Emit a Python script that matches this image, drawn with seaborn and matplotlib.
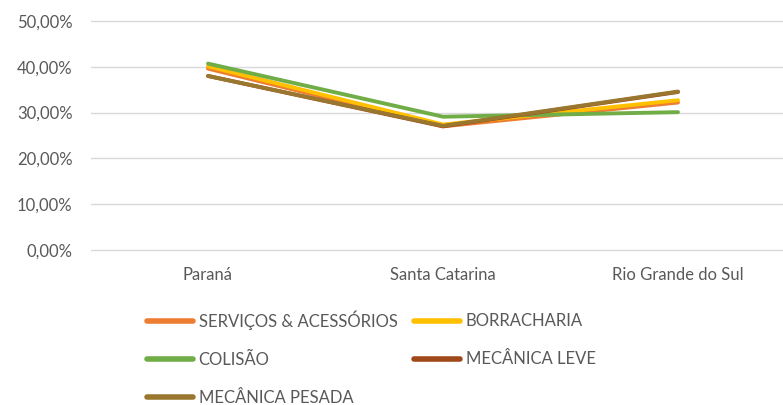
import pandas as pd
import matplotlib
matplotlib.use("Agg")
import matplotlib.pyplot as plt
import seaborn as sns
from matplotlib.ticker import FuncFormatter

# Data (share per state)
states = ["Paraná", "Santa Catarina", "Rio Grande do Sul"]
servicos = [0.396, 0.270, 0.322]
borracharia = [0.401, 0.274, 0.327]
colisao = [0.407, 0.291, 0.301]
mecanica_leve = [0.380, 0.270, 0.345]
mecanica_pesada = [0.380, 0.271, 0.346]

series_names = ["SERVIÇOS & ACESSÓRIOS", "BORRACHARIA", "COLISÃO",
                "MECÂNICA LEVE", "MECÂNICA PESADA"]
series_values = [servicos, borracharia, colisao, mecanica_leve, mecanica_pesada]
colors = ["#ED7D31", "#FFC000", "#70AD47", "#A0481A", "#9A772E"]

rows = []
for name, vals in zip(series_names, series_values):
    for st, v in zip(states, vals):
        rows.append({"estado": st, "serie": name, "valor": v})
df = pd.DataFrame(rows)

sns.set_theme(style="white")
plt.rcParams["font.family"] = ["Lato", "DejaVu Sans"]
text_color = "#595959"

W, H = 783, 405
fig = plt.figure(figsize=(W / 100, H / 100), dpi=100)
ax = fig.add_axes([90.5 / W, (H - 250) / H, 705 / W, 229 / H])

sns.lineplot(data=df, x="estado", y="valor", hue="serie", hue_order=series_names,
             palette=colors, sort=False, linewidth=2.8, ax=ax)

ax.set_xlim(-0.5, 2.5)
ax.set_ylim(0, 0.5)
ax.set_yticks([0, 0.1, 0.2, 0.3, 0.4, 0.5])
ax.yaxis.set_major_formatter(FuncFormatter(lambda v, _: f"{v * 100:.2f}%".replace(".", ",")))
ax.grid(axis="y", color="#D9D9D9", linewidth=1)
ax.grid(axis="x", visible=False)
ax.set_axisbelow(True)
for g in ax.get_ygridlines():
    g.set_clip_on(False)
for s in ax.spines.values():
    s.set_visible(False)
ax.set_xlabel("")
ax.set_ylabel("")
ax.tick_params(axis="y", length=0, pad=13, labelsize=12, labelcolor=text_color)
ax.tick_params(axis="x", length=0, pad=12.5, labelsize=12, labelcolor=text_color)

handles, labels = ax.get_legend_handles_labels()
ax.get_legend().remove()
order = [0, 2, 4, 1, 3]
leg = fig.legend([handles[i] for i in order], [labels[i] for i in order],
                 ncol=2, frameon=False, loc="upper left",
                 bbox_to_anchor=(147 / W, 1 - 310 / H), borderaxespad=0, borderpad=0,
                 handlelength=2.75, handletextpad=0.35, columnspacing=1.0,
                 labelspacing=1.32, fontsize=12)
for t in leg.get_texts():
    t.set_color(text_color)
for h in leg.legend_handles:
    h.set_linewidth(4)
    h.set_solid_capstyle("round")

fig.savefig("out.png", dpi=100)
